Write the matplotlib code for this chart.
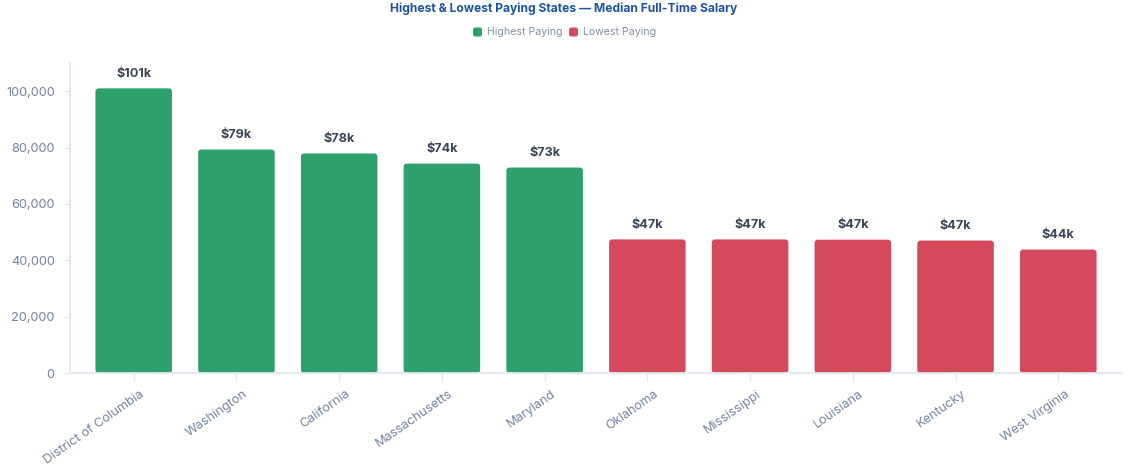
import matplotlib
matplotlib.use("Agg")
import matplotlib.pyplot as plt
from matplotlib.patches import FancyBboxPatch

states = ["District of Columbia", "Washington", "California", "Massachusetts", "Maryland",
          "Oklahoma", "Mississippi", "Louisiana", "Kentucky", "West Virginia"]
salaries = [101000, 79300, 77900, 74300, 72900, 47400, 47400, 47300, 47000, 43800]
groups = ["Highest Paying"] * 5 + ["Lowest Paying"] * 5
labels = ["$101k", "$79k", "$78k", "$74k", "$73k", "$47k", "$47k", "$47k", "$47k", "$44k"]
yticks = [0, 20000, 40000, 60000, 80000, 100000]

GREEN = "#2EA06C"
RED = "#D4495C"
colors = {"Highest Paying": GREEN, "Lowest Paying": RED}

plt.rcParams["font.family"] = ["Inter", "DejaVu Sans"]

W, H = 1128, 469
fig = plt.figure(figsize=(W / 100, H / 100), dpi=100)
left, right, bottom, top = 70, 1122, 373, 63
ax = fig.add_axes([left / W, 1 - bottom / H, (right - left) / W, (bottom - top) / H])

x = list(range(len(states)))
bars = ax.bar(x, salaries, width=0.745, color=[colors[g] for g in groups])
ax.set_xlim(-0.62, len(states) - 0.38)
ax.set_ylim(0, 110000)

# replace bars with rounded versions
xpx = (right - left) / (ax.get_xlim()[1] - ax.get_xlim()[0])
ypx = (bottom - top) / 110000
aspect = (1 / ypx) / (1 / xpx)
for b in bars:
    b.set_visible(False)
    p = FancyBboxPatch((b.get_x(), b.get_y()), b.get_width(), b.get_height(),
                       boxstyle="round,pad=0,rounding_size=0.03",
                       mutation_aspect=aspect, facecolor=b.get_facecolor(),
                       edgecolor="none", zorder=2)
    ax.add_patch(p)

for xi, v, lab in zip(x, salaries, labels):
    ax.annotate(lab, (xi, v), xytext=(0, 6), textcoords="offset points",
                ha="center", va="bottom", fontsize=9.1, fontweight="bold",
                color="#3B4558")

ax.set_yticks(yticks)
ax.set_yticklabels([f"{t:,}" for t in yticks])
ax.set_xticks(x)
ax.set_xticklabels([])
for xi, name in zip(x, states):
    ax.annotate(name, (xi, 0), xycoords=("data", "axes fraction"),
                xytext=(6, -15), textcoords="offset pixels",
                rotation=35, ha="right", va="top", rotation_mode="anchor",
                fontsize=9.2, color="#7483A0", annotation_clip=False)

axis_c = "#E2E6EF"
for s in ["top", "right"]:
    ax.spines[s].set_visible(False)
for s in ["left", "bottom"]:
    ax.spines[s].set_color(axis_c)
    ax.spines[s].set_linewidth(1.3)
ax.tick_params(axis="y", length=4, width=1, color=axis_c, labelsize=9.2,
               labelcolor="#7483A0", pad=7)
ax.tick_params(axis="x", length=6, width=1, color=axis_c)

fig.text(0.5, 1 - 9 / H, "Highest & Lowest Paying States \u2014 Median Full-Time Salary",
         ha="center", va="center", fontsize=8.7, fontweight="bold", color="#1F53A0")

# legend
leg_y = 1 - 32 / H
items = [("Highest Paying", GREEN, 473), ("Lowest Paying", RED, 569)]
for name, c, px in items:
    sq = FancyBboxPatch((px / W, leg_y - 4.5 / H), 9 / W, 9 / H,
                        boxstyle="round,pad=0,rounding_size=0.002",
                        transform=fig.transFigure, facecolor=c, edgecolor="none",
                        mutation_aspect=W / H)
    fig.add_artist(sq)
    fig.text((px + 14) / W, leg_y, name, ha="left", va="center", fontsize=7.6,
             color="#8490A8")

fig.savefig("out.png", dpi=100, facecolor="white")
